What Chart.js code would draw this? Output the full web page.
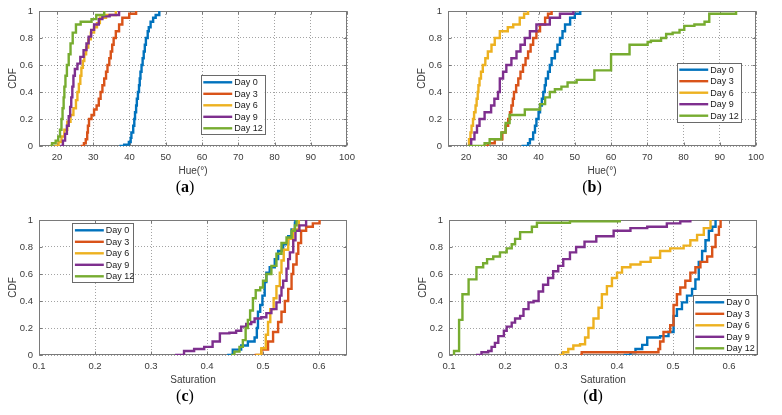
<!DOCTYPE html>
<html><head><meta charset="utf-8">
<script src="https://cdn.jsdelivr.net/npm/chart.js@4.4.1/dist/chart.umd.min.js"></script>
<style>
html,body{margin:0;padding:0;background:#fff}
body{width:782px;height:415px;position:relative;overflow:hidden}
canvas{position:absolute}
.cap{position:absolute;font-family:"Liberation Serif","DejaVu Serif",serif;font-size:16px;color:#000;transform:translate(-50%,-50%);white-space:nowrap;line-height:1}
</style></head><body>
<canvas id="ca" width="377" height="182" style="left:0px;top:0px"></canvas>
<canvas id="cb" width="377" height="182" style="left:409px;top:0px"></canvas>
<canvas id="cc" width="377" height="182" style="left:0px;top:209px"></canvas>
<canvas id="cd" width="377" height="182" style="left:410px;top:209px"></canvas>
<div class="cap" style="left:185px;top:187px">(<b>a</b>)</div>
<div class="cap" style="left:592px;top:187px">(<b>b</b>)</div>
<div class="cap" style="left:185px;top:396px">(<b>c</b>)</div>
<div class="cap" style="left:593px;top:396px">(<b>d</b>)</div>
<script>
// ---------- DATA ----------
const dayLabels = ['Day 0','Day 3','Day 6','Day 9','Day 12'];
const hueTicks = [20,30,40,50,60,70,80,90,100];
const satTicks = [0.1,0.2,0.3,0.4,0.5,0.6];
const cdfTicks = [0,0.2,0.4,0.6,0.8,1];

// (a) Hue
const hueA_day0 = [37.2,38.5,39.8,40.3,40.5,41.0,41.3,41.5,41.8,42.0,42.3,42.6,42.8,43.0,43.3,43.6,43.9,44.2,44.5,45.0,45.3,45.8,46.5,47.2,48.2];
const cdfA_day0 = [0,0.01,0.03,0.06,0.10,0.15,0.20,0.25,0.30,0.35,0.40,0.45,0.50,0.55,0.60,0.65,0.70,0.75,0.80,0.85,0.88,0.92,0.95,0.97,1];
const hueA_day3 = [26.5,27.4,27.9,28.3,28.5,28.8,29.5,30.2,30.9,31.5,32.0,32.5,33.0,33.5,33.9,34.4,34.8,35.2,35.6,36.2,37.1,38.0,39.9,41.8];
const cdfA_day3 = [0,0.02,0.05,0.10,0.15,0.20,0.23,0.27,0.30,0.35,0.40,0.45,0.50,0.55,0.60,0.65,0.70,0.75,0.80,0.85,0.90,0.95,0.98,1];
const hueA_day6 = [19.3,20.4,21.2,22.0,22.8,23.7,24.5,25.2,25.6,26.0,26.4,26.7,27.1,27.5,28.0,28.6,29.3,30.2,31.0,31.8,33.5,36.2];
const cdfA_day6 = [0,0.03,0.07,0.12,0.18,0.23,0.28,0.34,0.40,0.46,0.52,0.58,0.63,0.68,0.73,0.79,0.84,0.88,0.91,0.95,0.97,1];
const hueA_day9 = [20.9,21.6,22.2,22.7,23.2,23.6,23.9,24.2,24.5,24.9,25.6,26.4,27.3,28.1,28.7,29.4,30.2,31.5,32.5,34.5,37.1];
const cdfA_day9 = [0,0.04,0.09,0.15,0.22,0.29,0.36,0.44,0.52,0.57,0.61,0.66,0.71,0.76,0.81,0.86,0.90,0.94,0.96,0.97,1];
const hueA_day12 = [18.0,18.6,19.6,20.3,20.8,21.2,21.5,21.8,22.0,22.3,22.7,23.2,23.7,24.3,25.2,26.5,29.5,30.8,33.0];
const cdfA_day12 = [0,0.02,0.04,0.07,0.12,0.20,0.28,0.36,0.44,0.52,0.60,0.68,0.76,0.84,0.90,0.92,0.94,0.97,1];

// (b) Hue
const hueB_day0 = [35.3,37.1,37.6,38.5,39.0,39.4,40.0,40.4,40.9,41.3,41.7,42.0,42.6,43.1,43.6,44.5,45.2,45.9,46.6,47.3,48.7,50.0,51.5];
const cdfB_day0 = [0,0.02,0.05,0.10,0.15,0.20,0.25,0.30,0.35,0.40,0.45,0.50,0.55,0.60,0.65,0.70,0.75,0.80,0.85,0.90,0.95,0.98,1];
const hueB_day3 = [24.6,26.0,27.9,30.0,30.9,31.6,32.1,32.5,32.9,33.2,33.8,34.4,35.0,35.7,36.4,37.1,37.8,38.5,39.4,40.4,41.8,42.6,43.6];
const cdfB_day3 = [0,0.02,0.05,0.10,0.15,0.20,0.25,0.30,0.35,0.40,0.45,0.50,0.55,0.60,0.65,0.70,0.75,0.80,0.85,0.90,0.95,0.98,1];
const hueB_day6 = [20.5,20.8,21.2,21.5,21.9,22.2,22.6,22.9,23.2,23.4,23.7,24.1,24.6,25.3,26.0,27.0,27.9,29.3,31.5,33.0,34.8,36.0,37.1];
const cdfB_day6 = [0,0.05,0.10,0.15,0.20,0.25,0.30,0.35,0.40,0.45,0.50,0.55,0.60,0.65,0.70,0.75,0.80,0.85,0.88,0.90,0.95,0.98,1];
const hueB_day9 = [20.5,21.4,22.3,23.0,23.7,25.1,26.9,27.8,28.8,29.3,30.2,31.1,32.5,33.9,35.0,36.2,37.6,39.4,43.1,45.9,49.6];
const cdfB_day9 = [0,0.05,0.10,0.15,0.20,0.25,0.30,0.35,0.40,0.50,0.55,0.60,0.65,0.70,0.75,0.80,0.85,0.90,0.95,0.98,1];
const hueB_day12 = [20.5,25.1,26.5,29.7,30.9,32.0,36.2,40.4,41.8,43.1,44.5,46.3,48.0,50.5,55.4,60.0,65.1,70.1,71.0,73.8,75.2,77.0,78.9,80.2,83.0,85.8,87.1,94.5];
const cdfB_day12 = [0,0.02,0.05,0.10,0.17,0.23,0.27,0.31,0.36,0.40,0.42,0.44,0.47,0.49,0.56,0.68,0.75,0.77,0.78,0.80,0.83,0.84,0.86,0.89,0.90,0.92,0.98,1];

// (c) Saturation
const satC_day0 = [0.436,0.446,0.461,0.473,0.485,0.489,0.491,0.495,0.499,0.503,0.506,0.512,0.521,0.527,0.536,0.545,0.551,0.557,0.558];
const cdfC_day0 = [0,0.04,0.07,0.10,0.13,0.20,0.32,0.37,0.44,0.54,0.61,0.65,0.71,0.77,0.82,0.88,0.93,0.98,1];
const satC_day3 = [0.485,0.497,0.509,0.518,0.527,0.533,0.539,0.545,0.551,0.554,0.560,0.563,0.568,0.577,0.589,0.601];
const cdfC_day3 = [0,0.04,0.10,0.17,0.245,0.32,0.40,0.49,0.60,0.67,0.75,0.83,0.92,0.95,0.975,1];
const satC_day6 = [0.487,0.497,0.505,0.509,0.513,0.519,0.524,0.530,0.533,0.537,0.545,0.554,0.564];
const cdfC_day6 = [0,0.05,0.15,0.245,0.34,0.42,0.51,0.61,0.70,0.78,0.86,0.93,1];
const satC_day9 = [0.343,0.359,0.377,0.395,0.410,0.423,0.440,0.452,0.461,0.470,0.479,0.485,0.497,0.506,0.515,0.524,0.530,0.533,0.536,0.542,0.545,0.548,0.554,0.558,0.565,0.577];
const cdfC_day9 = [0,0.03,0.045,0.06,0.10,0.16,0.165,0.18,0.21,0.23,0.245,0.27,0.28,0.31,0.34,0.39,0.44,0.50,0.55,0.64,0.71,0.76,0.85,0.92,0.96,1];
const satC_day12 = [0.443,0.449,0.458,0.464,0.469,0.473,0.477,0.482,0.487,0.495,0.500,0.506,0.515,0.524,0.533,0.542,0.551,0.557,0.560];
const cdfC_day12 = [0,0.025,0.06,0.11,0.20,0.26,0.33,0.42,0.48,0.50,0.55,0.60,0.66,0.75,0.83,0.87,0.92,0.96,1];

// (d) Saturation
const satD_day0 = [0.412,0.424,0.433,0.445,0.454,0.477,0.492,0.501,0.507,0.516,0.525,0.534,0.540,0.546,0.552,0.558,0.564,0.570,0.576];
const cdfD_day0 = [0,0.02,0.045,0.075,0.13,0.14,0.17,0.29,0.34,0.39,0.44,0.49,0.56,0.69,0.77,0.85,0.92,0.95,1];
const satD_day3 = [0.334,0.337,0.474,0.477,0.483,0.495,0.501,0.507,0.513,0.522,0.531,0.540,0.549,0.561,0.570,0.576,0.582,0.585];
const cdfD_day3 = [0,0.02,0.045,0.10,0.17,0.22,0.37,0.45,0.50,0.55,0.61,0.65,0.69,0.73,0.80,0.89,0.95,1];
const satD_day6 = [0.297,0.304,0.313,0.322,0.334,0.343,0.349,0.358,0.367,0.373,0.382,0.391,0.400,0.409,0.424,0.442,0.460,0.477,0.495,0.519,0.531,0.543,0.555,0.567];
const cdfD_day6 = [0,0.02,0.045,0.07,0.08,0.13,0.20,0.27,0.35,0.45,0.51,0.57,0.61,0.65,0.67,0.69,0.72,0.77,0.79,0.81,0.85,0.89,0.94,1];
const satD_day9 = [0.148,0.158,0.170,0.176,0.182,0.188,0.198,0.203,0.212,0.218,0.227,0.233,0.242,0.251,0.260,0.268,0.277,0.286,0.295,0.304,0.316,0.327,0.342,0.363,0.394,0.424,0.454,0.489,0.513,0.531];
const cdfD_day9 = [0,0.02,0.03,0.06,0.09,0.14,0.18,0.21,0.24,0.27,0.29,0.34,0.39,0.40,0.47,0.52,0.57,0.62,0.66,0.71,0.76,0.80,0.84,0.88,0.92,0.94,0.95,0.975,0.99,1];
const satD_day12 = [0.109,0.109,0.118,0.124,0.135,0.149,0.161,0.168,0.179,0.191,0.203,0.212,0.218,0.227,0.248,0.257,0.316,0.405];
const cdfD_day12 = [0,0.03,0.26,0.45,0.56,0.65,0.68,0.71,0.73,0.76,0.79,0.82,0.86,0.91,0.95,0.98,0.99,1];

// ---------- STYLE ----------
const colors = ['#0072BD','#D95319','#EDB120','#7E2F8E','#77AC30'];
const TXT = '#3a3a3a', AXIS = '#7a7a7a', GRID = 'rgba(0,0,0,0.36)';
Chart.defaults.font.family = '"Liberation Sans", Arial, sans-serif';
const fmt = v => String(Math.round(v * 100) / 100);

function makeDatasets(xsList, ysList){
  return xsList.map((xs,i)=>({
    label: dayLabels[i],
    data: xs.map((x,k)=>({x:x, y:ysList[i][k]})),
    borderColor: colors[i], backgroundColor: colors[i],
    borderWidth: 2.4, pointRadius: 0, stepped: true, fill: false,
    order: 4 - i
  }));
}

function decor(leg){
  return {
    id: 'decor',
    beforeDatasetsDraw(chart){
      const {ctx, chartArea:a, scales:{x, y}} = chart;
      const L = Math.round(a.left)+0.5, T = Math.round(a.top)+0.5, R = Math.round(a.right)-0.5, B = Math.round(a.bottom)-0.5;
      ctx.save();
      ctx.strokeStyle = AXIS; ctx.lineWidth = 1; ctx.setLineDash([]);
      ctx.strokeRect(L, T, R-L, B-T);
      ctx.beginPath();
      x.ticks.forEach(t=>{ const p = Math.round(x.getPixelForValue(t.value))+0.5; ctx.moveTo(p,B); ctx.lineTo(p,B-3); ctx.moveTo(p,T); ctx.lineTo(p,T+3); });
      y.ticks.forEach(t=>{ const p = Math.round(y.getPixelForValue(t.value))+0.5; ctx.moveTo(L,p); ctx.lineTo(L+3,p); ctx.moveTo(R,p); ctx.lineTo(R-3,p); });
      ctx.stroke();
      ctx.restore();
    },
    afterDraw(chart){
      const ctx = chart.ctx;
      ctx.save();
      ctx.fillStyle = '#fff'; ctx.fillRect(leg.x, leg.y, leg.w, 59);
      ctx.strokeStyle = '#6a6a6a'; ctx.lineWidth = 1;
      ctx.strokeRect(Math.round(leg.x)+0.5, Math.round(leg.y)+0.5, Math.round(leg.w), 59);
      ctx.font = '9px "Liberation Sans", Arial, sans-serif';
      ctx.textBaseline = 'middle'; ctx.textAlign = 'left';
      for(let i=0;i<5;i++){
        const yy = leg.y + 7 + i*11.5;
        ctx.strokeStyle = colors[i]; ctx.lineWidth = 2.4;
        ctx.beginPath(); ctx.moveTo(leg.x+2.6, yy); ctx.lineTo(leg.x+31.5, yy); ctx.stroke();
        ctx.fillStyle = '#1a1a1a'; ctx.fillText(dayLabels[i], leg.x+33.5, yy+0.5);
      }
      ctx.restore();
    }
  };
}

function makeChart(id, xsList, ysList, xMin, xMax, xTicks, xTitle, leg){
  return new Chart(document.getElementById(id), {
    type: 'line',
    data: { datasets: makeDatasets(xsList, ysList) },
    options: {
      responsive: false, animation: false,
      layout: { padding: { top: 11, right: 30, left: 0, bottom: 0 } },
      plugins: { legend: { display: false }, tooltip: { enabled: false } },
      scales: {
        x: {
          type: 'linear', min: xMin, max: xMax,
          afterBuildTicks: s => { s.ticks = xTicks.map(v => ({ value: v })); },
          afterFit: s => { s.height = 36; s.paddingLeft = 0; s.paddingRight = 0; },
          grid: { color: GRID, drawTicks: false, lineWidth: 1 },
          border: { display: false, dash: [1, 2] },
          ticks: { padding: 6, color: TXT, font: { size: 9.5 }, maxRotation: 0, autoSkip: false, callback: fmt },
          title: { display: true, text: xTitle, color: TXT, font: { size: 10 }, padding: { top: 0, bottom: 5 } }
        },
        y: {
          type: 'linear', min: 0, max: 1,
          afterBuildTicks: s => { s.ticks = cdfTicks.map(v => ({ value: v })); },
          afterFit: s => { s.width = 39; s.paddingTop = 0; s.paddingBottom = 0; },
          grid: { color: GRID, drawTicks: false, lineWidth: 1 },
          border: { display: false, dash: [1, 2] },
          ticks: { padding: 6, color: TXT, font: { size: 9.5 }, autoSkip: false, callback: fmt },
          title: { display: true, text: 'CDF', color: TXT, font: { size: 10 }, padding: { top: 7, bottom: 0 } }
        }
      }
    },
    plugins: [decor(leg)]
  });
}

makeChart('ca',
  [hueA_day0, hueA_day3, hueA_day6, hueA_day9, hueA_day12],
  [cdfA_day0, cdfA_day3, cdfA_day6, cdfA_day9, cdfA_day12],
  15, 100, hueTicks, 'Hue(\u00B0)', {x: 200.7, y: 75.3, w: 64});
makeChart('cb',
  [hueB_day0, hueB_day3, hueB_day6, hueB_day9, hueB_day12],
  [cdfB_day0, cdfB_day3, cdfB_day6, cdfB_day9, cdfB_day12],
  15, 100, hueTicks, 'Hue(\u00B0)', {x: 267.7, y: 62.7, w: 64});
makeChart('cc',
  [satC_day0, satC_day3, satC_day6, satC_day9, satC_day12],
  [cdfC_day0, cdfC_day3, cdfC_day6, cdfC_day9, cdfC_day12],
  0.1, 0.65, satTicks, 'Saturation', {x: 72.3, y: 14.3, w: 61});
makeChart('cd',
  [satD_day0, satD_day3, satD_day6, satD_day9, satD_day12],
  [cdfD_day0, cdfD_day3, cdfD_day6, cdfD_day9, cdfD_day12],
  0.1, 0.65, satTicks, 'Saturation', {x: 282.7, y: 86.3, w: 64});
</script>
</body></html>
